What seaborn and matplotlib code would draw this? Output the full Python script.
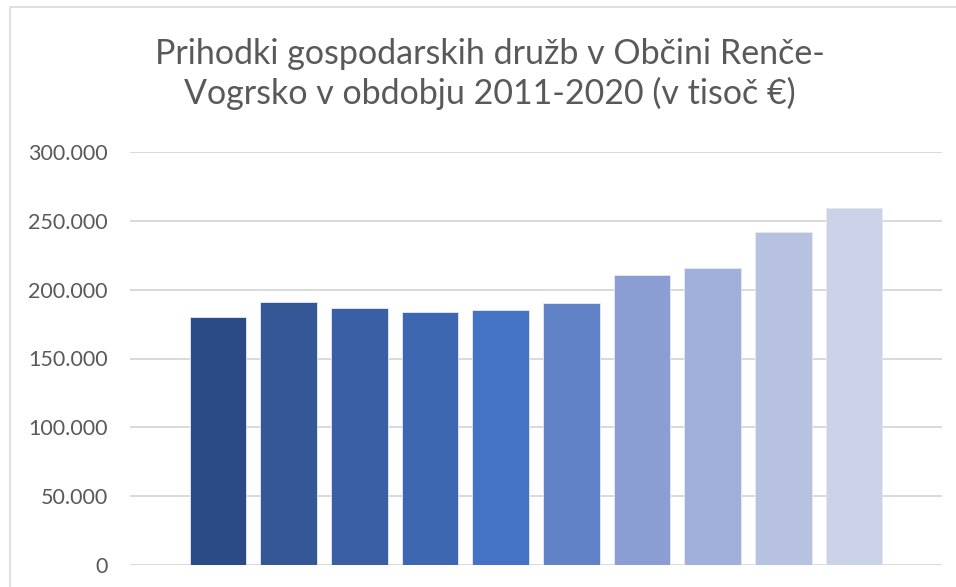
import matplotlib
matplotlib.use("Agg")
import matplotlib.pyplot as plt
from matplotlib.patches import Rectangle
from matplotlib.ticker import FuncFormatter, MultipleLocator
import seaborn as sns
import pandas as pd

# Data (thousand EUR)
years = ["2011", "2012", "2013", "2014", "2015", "2016", "2017", "2018", "2019", "2020"]
revenue = [180000, 190800, 186400, 183500, 185200, 190000, 210400, 215900, 242100, 259500]
bar_colors = ["#2b4b86", "#345795", "#3a5fa5", "#3d67b1", "#4472c4",
              "#6282c8", "#8a9ed4", "#a1b0da", "#b7c2e0", "#cbd1e7"]

title = "Prihodki gospodarskih družb v Občini Renče-\nVogrsko v obdobju 2011-2020 (v tisoč €)"

df = pd.DataFrame({"leto": years, "prihodki": revenue})

sns.set_theme(style="white")
plt.rcParams["font.family"] = ["Lato", "DejaVu Sans"]

fig = plt.figure(figsize=(9.56, 5.87), dpi=100)
ax = fig.add_axes([130 / 956, 22 / 587, 812 / 956, 413 / 587])

sns.barplot(
    data=df, x="leto", y="prihodki", hue="leto",
    palette=bar_colors, saturation=1, legend=False, width=0.8,
    edgecolor="#e6e9f2", linewidth=0.6, ax=ax, zorder=3,
)

ax.set_ylim(0, 300000)
ax.set_xlim(-1.245, 10.245)
ax.yaxis.set_major_locator(MultipleLocator(50000))
ax.yaxis.set_major_formatter(FuncFormatter(lambda v, _: f"{int(v):,}".replace(",", ".")))
ax.grid(axis="y", color="#d9d9d9", linewidth=1.4, zorder=0)
ax.set_axisbelow(True)
ax.tick_params(axis="y", length=0, pad=16, labelsize=15.5, labelcolor="#595959")
ax.set_xticks([])
ax.set_xlabel("")
ax.set_ylabel("")
for s in ax.spines.values():
    s.set_visible(False)

fig.text(490 / 956, 1 - 74 / 587, title, ha="center", va="center",
         fontsize=24.5, color="#595959", linespacing=1.25)

# chart area border
fig.patches.append(Rectangle((10 / 956, -0.05), 1.1, 1 - 7 / 587 + 0.05,
                             transform=fig.transFigure, fill=False,
                             edgecolor="#d9d9d9", linewidth=1.2))

fig.savefig("out.png", dpi=100)
